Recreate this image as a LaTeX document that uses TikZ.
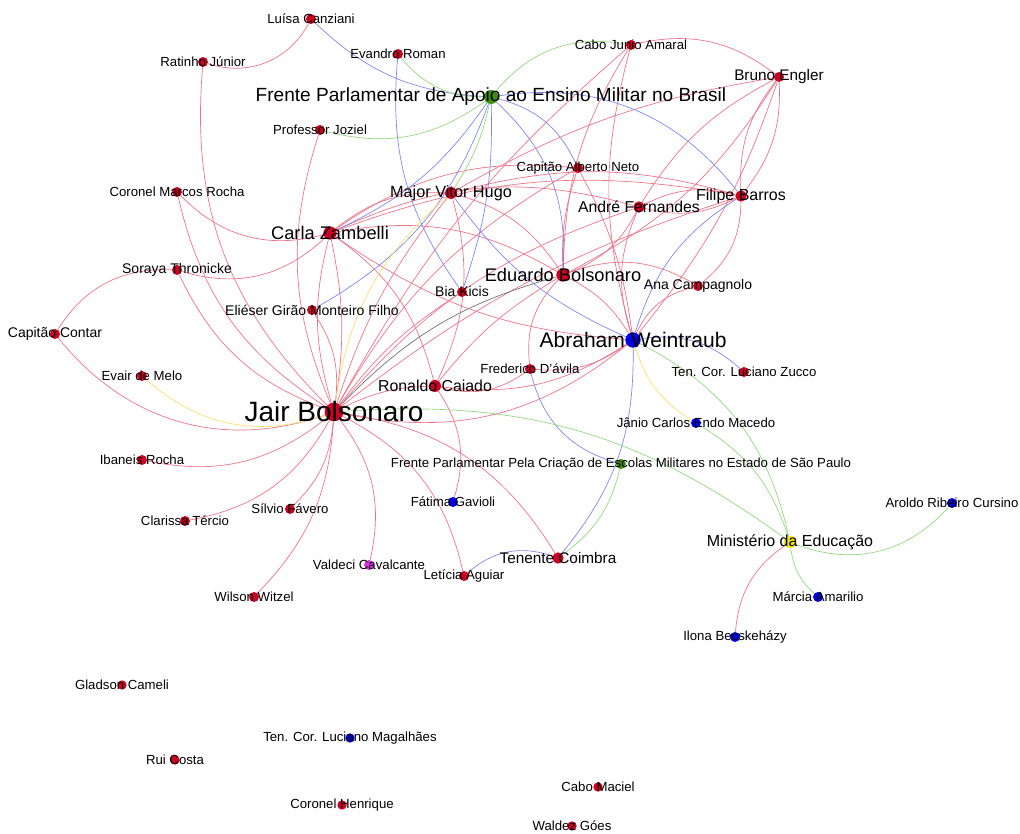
\documentclass[tikz,border=0pt]{standalone}
\usepackage{fontspec}
\setmainfont{Liberation Sans}
\usetikzlibrary{backgrounds}
\definecolor{ndred}{HTML}{CC0022}
\definecolor{ndblue}{HTML}{0000E6}
\definecolor{ndgreen}{HTML}{3D9108}
\definecolor{ndyellow}{HTML}{F2EA00}
\definecolor{ndpink}{HTML}{D633E6}
\definecolor{edred}{HTML}{EE7086}
\definecolor{edblue}{HTML}{7D83F0}
\definecolor{edgreen}{HTML}{8FD77B}
\definecolor{edyellow}{HTML}{F9DF6A}
\definecolor{edgrey}{HTML}{6E6E6E}
\tikzset{every node/.style={font=\fontsize{9.9}{11}\selectfont},
  vtx/.style={circle,inner sep=0pt,minimum size=7.5pt,fill=ndred},
  lbl/.style={inner sep=0pt,text=black},
  redge/.style={draw=edred,line width=0.5pt},
  bedge/.style={draw=edblue,line width=0.5pt},
  gedge/.style={draw=edgreen,line width=0.5pt},
  yedge/.style={draw=edyellow,line width=0.5pt},
  kedge/.style={draw=edgrey,line width=0.5pt}}

\begin{document}
\begin{tikzpicture}[x=0.75pt,y=0.75pt]
  \useasboundingbox (0,0) rectangle (1020,834);
  % people and bodies
  \node[vtx] (lc) at (311,815) {};
  \node[vtx] (rj) at (203,772) {};
  \node[vtx] (er) at (398,780) {};
  \node[vtx] (cja) at (631,789) {};
  \node[vtx] (be) at (779,757) {};
  \node[vtx,fill=ndgreen,minimum size=10.5pt] (fpa) at (491,737) {};
  \node[vtx] (pj) at (320,704) {};
  \node[vtx] (can) at (578,666) {};
  \node[vtx] (cmr) at (177,642) {};
  \node[vtx,minimum size=9pt] (mvh) at (451,641) {};
  \node[vtx,minimum size=8.5pt] (fb) at (741,638) {};
  \node[vtx,minimum size=8.5pt] (af) at (639,627) {};
  \node[vtx,minimum size=10pt] (cz) at (330,601) {};
  \node[vtx,minimum size=10pt] (eb) at (563,559) {};
  \node[vtx] (ac) at (698,548) {};
  \node[vtx] (st) at (177,564) {};
  \node[vtx] (bk) at (462,542) {};
  \node[vtx] (eg) at (312,524) {};
  \node[vtx] (cc) at (55,500) {};
  \node[vtx,fill=ndblue,minimum size=11.5pt] (aw) at (633,494) {};
  \node[vtx] (fd) at (530,465) {};
  \node[vtx] (lz) at (744,462) {};
  \node[vtx] (em) at (142,458) {};
  \node[vtx,minimum size=9pt] (rc) at (435,448) {};
  \node[vtx,minimum size=14pt] (jb) at (334,422) {};
  \node[vtx,fill=ndblue] (jm) at (696,411) {};
  \node[vtx] (ir) at (142,374) {};
  \node[vtx,fill=ndgreen] (fsp) at (621,370) {};
  \node[vtx,fill=ndblue] (fg) at (453,332) {};
  \node[vtx,fill=ndblue] (arc) at (952,331) {};
  \node[vtx] (sf) at (290,325) {};
  \node[vtx] (ct) at (185,313) {};
  \node[vtx,fill=ndyellow,minimum size=9pt] (me) at (790,292) {};
  \node[vtx,minimum size=8.5pt] (tc) at (558,276) {};
  \node[vtx,fill=ndpink] (vc) at (369,269) {};
  \node[vtx] (la) at (464,258) {};
  \node[vtx] (ww) at (254,237) {};
  \node[vtx,fill=ndblue] (ma) at (818,237) {};
  \node[vtx,fill=ndblue] (ib) at (735,197) {};
  \node[vtx,minimum size=7pt] (gc) at (122,149) {};
  \node[vtx,fill=ndblue,minimum size=7pt] (lm) at (350,96) {};
  \node[vtx,minimum size=7pt] (rco) at (175,74) {};
  \node[vtx,minimum size=7pt] (cm) at (598,47) {};
  \node[vtx,minimum size=7pt] (ch) at (342,29) {};
  \node[vtx,minimum size=7pt] (wg) at (572,8) {};

  \begin{pgfonlayer}{background}
    \fill[white] (0,0) rectangle (1020,834);
    % red ties
    \draw[redge] (rj) to[bend right=40] (lc);
    \draw[redge] (rj) to[bend right=25] (jb);
    \draw[redge] (cmr) to[bend right=30] (cz);
    \draw[redge] (cmr) to[bend right=22] (jb);
    \draw[redge] (st) to[bend right=30] (cz);
    \draw[redge] (st) to[bend right=22] (jb);
    \draw[redge] (cc) to[bend left=30] (st);
    \draw[redge] (cc) to[bend right=35] (jb);
    \draw[redge] (pj) to[bend right=20] (jb);
    \draw[redge] (eg) to[bend left=20] (jb);
    \draw[redge] (cz) to[bend right=15] (jb);
    \draw[redge] (cz) to[bend left=10] (jb);
    \draw[redge] (jb) to[bend left=10] (mvh);
    \draw[redge] (jb) to[bend left=10] (bk);
    \draw[redge] (jb) to[bend left=15] (af);
    \draw[redge] (jb) to[bend left=15] (can);
    \draw[redge] (jb) to[bend left=10] (cja);
    \draw[redge] (jb) to[bend left=10] (fb);
    \draw[redge] (jb) to[bend left=12] (rc);
    \draw[redge] (jb) to[bend right=25] (aw);
    \draw[redge] (jb) to[bend left=25] (ir);
    \draw[redge] (jb) to[bend left=25] (ct);
    \draw[redge] (jb) to[bend left=20] (sf);
    \draw[redge] (jb) to[bend left=20] (ww);
    \draw[redge] (jb) to[bend left=25] (vc);
    \draw[redge] (jb) to[bend left=25] (la);
    \draw[redge] (jb) to[bend left=25] (tc);
    \draw[redge] (rc) to[bend left=25] (fg);
    \draw[redge] (mvh) to[bend left=20] (rc);
    \draw[redge] (rc) to[bend right=20] (aw);
    \draw[redge] (rc) to[bend left=10] (eb);
    \draw[redge] (rc) to[bend right=25] (fd);
    \draw[redge] (fd) to[bend right=20] (aw);
    \draw[redge] (fd) to[bend left=25] (eb);
    \draw[redge] (cz) to[bend left=20] (mvh);
    \draw[redge] (cz) to[bend left=20] (eb);
    \draw[redge] (cz) to[bend right=15] (aw);
    \draw[redge] (cz) to[bend left=20] (af);
    \draw[redge] (cz) to[bend left=20] (can);
    \draw[redge] (cz) to[bend left=20] (rc);
    \draw[redge] (cz) to[bend left=15] (fb);
    \draw[redge] (mvh) to[bend left=20] (eb);
    \draw[redge] (mvh) to[bend left=15] (fb);
    \draw[redge] (be) to[bend right=10] (mvh);
    \draw[redge] (eb) to[bend left=15] (cja);
    \draw[redge] (eb) to[bend left=10] (can);
    \draw[redge] (eb) to[bend right=20] (af);
    \draw[redge] (eb) to[bend right=15] (be);
    \draw[redge] (eb) to[bend left=25] (ac);
    \draw[redge] (eb) to[bend left=15] (aw);
    \draw[redge] (aw) to[bend left=20] (af);
    \draw[redge] (aw) to[bend left=15] (cja);
    \draw[redge] (aw) to[bend right=10] (be);
    \draw[redge] (aw) to[bend left=25] (ac);
    \draw[redge] (can) to[bend left=10] (aw);
    \draw[redge] (fb) to[bend left=25] (ac);
    \draw[redge] (cja) to[bend left=25] (be);
    \draw[redge] (be) to[bend left=20] (fb);
    \draw[redge] (fb) to[bend left=20] (be);
    \draw[redge] (be) to[bend right=15] (af);
    \draw[redge] (af) to[bend left=20] (fb);
    \draw[redge] (fb) to[bend left=20] (af);
    \draw[redge] (me) to[bend right=25] (ib);
    % blue ties
    \draw[bedge] (lc) to[bend right=20] (fpa);
    \draw[bedge] (er) to[bend right=20] (bk);
    \draw[bedge] (fpa) to[bend left=15] (cz);
    \draw[bedge] (fpa) to[bend left=20] (eg);
    \draw[bedge] (fpa) to[bend left=10] (bk);
    \draw[bedge] (fpa) to[bend left=25] (can);
    \draw[bedge] (fpa) to[bend left=25] (eb);
    \draw[bedge] (fpa) to[bend left=30] (fb);
    \draw[bedge] (fb) to[bend right=20] (aw);
    \draw[bedge] (mvh) to[bend right=15] (aw);
    \draw[bedge] (aw) to[bend left=25] (lz);
    \draw[bedge] (aw) to[bend left=20] (tc);
    \draw[bedge] (fd) to[bend right=30] (fsp);
    \draw[bedge] (tc) to[bend right=30] (la);
    % green ties
    \draw[gedge] (fpa) to[bend left=25] (er);
    \draw[gedge] (fpa) to[bend left=30] (cja);
    \draw[gedge] (fpa) to[bend left=25] (pj);
    \draw[gedge] (fpa) to[bend left=10] (mvh);
    \draw[gedge] (jb) to[bend left=20] (me);
    \draw[gedge] (aw) to[bend left=25] (me);
    \draw[gedge] (jm) to[bend left=20] (me);
    \draw[gedge] (me) to[bend right=35] (arc);
    \draw[gedge] (me) to[bend right=20] (ma);
    \draw[gedge] (fsp) to[bend left=20] (tc);
    % yellow and grey ties
    \draw[yedge] (em) to[bend right=30] (jb);
    \draw[yedge] (mvh) to[bend right=20] (jb);
    \draw[yedge] (aw) to[bend right=20] (jm);
    \draw[kedge] (jb) to[bend left=15] (eb);
  \end{pgfonlayer}

  % names
  \node[lbl] (lc-l) at (lc) {Luísa Canziani};
  \node[lbl] (rj-l) at (rj) {Ratinho Júnior};
  \node[lbl] (er-l) at (er) {Evandro Roman};
  \node[lbl] (cja-l) at (cja) {Cabo Junio Amaral};
  \node[lbl,font=\fontsize{11.5}{13}\selectfont] (be-l) at (be) {Bruno Engler};
  \node[lbl,font=\fontsize{14.3}{16}\selectfont] (fpa-l) at (fpa) {Frente Parlamentar de Apoio ao Ensino Militar no Brasil};
  \node[lbl] (pj-l) at (pj) {Professor Joziel};
  \node[lbl] (can-l) at (can) {Capitão Alberto Neto};
  \node[lbl] (cmr-l) at (cmr) {Coronel Marcos Rocha};
  \node[lbl,font=\fontsize{12.2}{14}\selectfont] (mvh-l) at (mvh) {Major Vitor Hugo};
  \node[lbl,font=\fontsize{12}{14}\selectfont] (fb-l) at (fb) {Filipe Barros};
  \node[lbl,font=\fontsize{11.8}{14}\selectfont] (af-l) at (af) {André Fernandes};
  \node[lbl,font=\fontsize{13.7}{16}\selectfont] (cz-l) at (cz) {Carla Zambelli};
  \node[lbl,font=\fontsize{13.7}{16}\selectfont] (eb-l) at (eb) {Eduardo Bolsonaro};
  \node[lbl,font=\fontsize{10.5}{12}\selectfont] (ac-l) at (ac) {Ana Campagnolo};
  \node[lbl,font=\fontsize{10.5}{12}\selectfont] (st-l) at (st) {Soraya Thronicke};
  \node[lbl,font=\fontsize{10.5}{12}\selectfont] (bk-l) at (bk) {Bia Kicis};
  \node[lbl,font=\fontsize{10.5}{12}\selectfont] (eg-l) at (eg) {Eliéser Girão Monteiro Filho};
  \node[lbl,font=\fontsize{10.5}{12}\selectfont] (cc-l) at (cc) {Capitão Contar};
  \node[lbl,font=\fontsize{15.8}{18}\selectfont] (aw-l) at (aw) {Abraham Weintraub};
  \node[lbl] (fd-l) at (fd) {Frederico D'ávila};
  \node[lbl] (lz-l) at (lz) {Ten. Cor. Luciano Zucco};
  \node[lbl] (em-l) at (em) {Evair de Melo};
  \node[lbl,font=\fontsize{11.9}{14}\selectfont] (rc-l) at (rc) {Ronaldo Caiado};
  \node[lbl,font=\fontsize{21}{24}\selectfont] (jb-l) at (jb) {Jair Bolsonaro};
  \node[lbl] (jm-l) at (jm) {Jânio Carlos Endo Macedo};
  \node[lbl] (ir-l) at (ir) {Ibaneis Rocha};
  \node[lbl] (fsp-l) at (fsp) {Frente Parlamentar Pela Criação de Escolas Militares no Estado de São Paulo};
  \node[lbl] (fg-l) at (fg) {Fátima Gavioli};
  \node[lbl] (arc-l) at (arc) {Aroldo Ribeiro Cursino};
  \node[lbl] (sf-l) at (sf) {Sílvio Fávero};
  \node[lbl] (ct-l) at (ct) {Clarissa Tércio};
  \node[lbl,font=\fontsize{12}{14}\selectfont] (me-l) at (me) {Ministério da Educação};
  \node[lbl,font=\fontsize{11.5}{13}\selectfont] (tc-l) at (tc) {Tenente Coimbra};
  \node[lbl] (vc-l) at (vc) {Valdeci Cavalcante};
  \node[lbl] (la-l) at (la) {Letícia Aguiar};
  \node[lbl] (ww-l) at (ww) {Wilson Witzel};
  \node[lbl] (ma-l) at (ma) {Márcia Amarilio};
  \node[lbl] (ib-l) at (ib) {Ilona Becskeházy};
  \node[lbl] (gc-l) at (gc) {Gladson Cameli};
  \node[lbl] (lm-l) at (lm) {Ten. Cor. Luciano Magalhães};
  \node[lbl] (rco-l) at (rco) {Rui Costa};
  \node[lbl] (cm-l) at (cm) {Cabo Maciel};
  \node[lbl] (ch-l) at (ch) {Coronel Henrique};
  \node[lbl] (wg-l) at (wg) {Waldez Góes};
\end{tikzpicture}
\end{document}
